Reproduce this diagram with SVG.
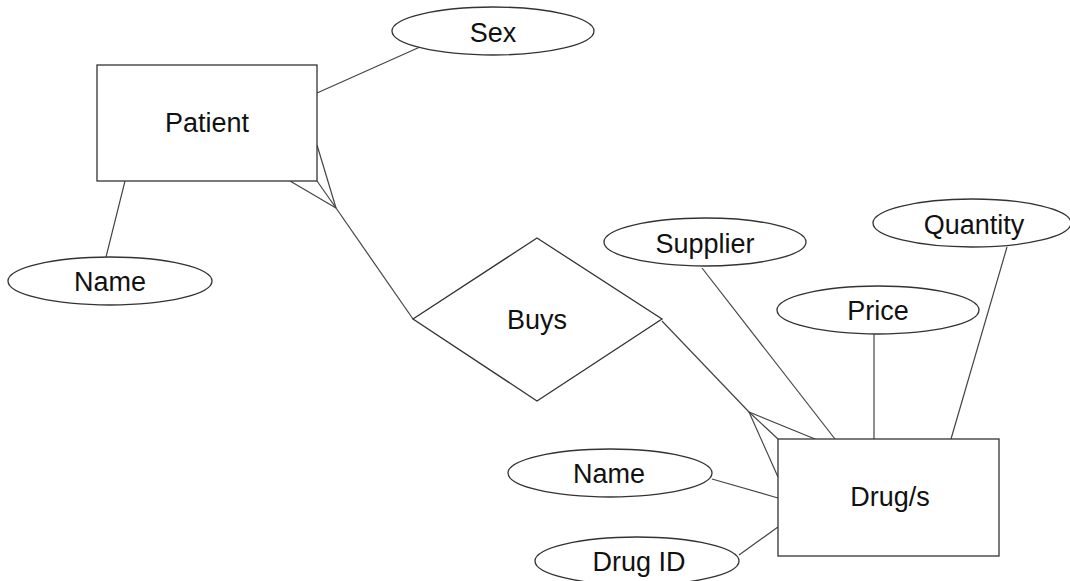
<svg xmlns="http://www.w3.org/2000/svg" width="1070" height="581" viewBox="0 0 1070 581">
<style>
.shape{fill:#fff;stroke:#333;stroke-width:1.3}
.conn line{stroke:#444;stroke-width:1.2}
text{font-family:"Liberation Sans",Arial,sans-serif;font-size:27px;fill:#111;text-anchor:middle}
</style>
<rect width="1070" height="581" fill="#fff"/>
<g class="conn" id="connectors">
<line x1="317" y1="93" x2="420" y2="47"/>
<line x1="125" y1="181" x2="106" y2="257"/>
<line x1="413" y1="319" x2="336" y2="208"/>
<line x1="336" y1="208" x2="317" y2="145"/>
<line x1="336" y1="208" x2="317" y2="181"/>
<line x1="336" y1="208" x2="290" y2="181"/>
<line x1="662" y1="321" x2="749" y2="412"/>
<line x1="749" y1="412" x2="815" y2="439"/>
<line x1="749" y1="412" x2="778" y2="439"/>
<line x1="749" y1="412" x2="778" y2="477"/>
<line x1="702" y1="268" x2="835" y2="439"/>
<line x1="874" y1="334" x2="874" y2="439"/>
<line x1="1007" y1="247" x2="951" y2="439"/>
<line x1="712" y1="479" x2="778" y2="498"/>
<line x1="739" y1="555" x2="778" y2="527"/>
</g>
<g id="patient"><rect class="shape" x="97" y="65" width="220" height="116"/><text x="207" y="132">Patient</text></g>
<g id="sex"><ellipse class="shape" cx="493" cy="31" rx="101" ry="24"/><text x="493" y="42">Sex</text></g>
<g id="patient-name"><ellipse class="shape" cx="110" cy="281" rx="102" ry="24"/><text x="110" y="291">Name</text></g>
<g id="buys"><polygon class="shape" points="537,238 662,319 537,401 413,319"/><text x="537" y="329">Buys</text></g>
<g id="supplier"><ellipse class="shape" cx="705" cy="242" rx="101" ry="24"/><text x="705" y="253">Supplier</text></g>
<g id="quantity"><ellipse class="shape" cx="972" cy="223" rx="99" ry="24"/><text x="974" y="234">Quantity</text></g>
<g id="price"><ellipse class="shape" cx="878" cy="310" rx="101" ry="24"/><text x="878" y="320">Price</text></g>
<g id="drugs"><rect class="shape" x="778" y="439" width="221" height="117"/><text x="890" y="506">Drug/s</text></g>
<g id="drug-name"><ellipse class="shape" cx="610" cy="473" rx="102" ry="24"/><text x="609" y="483">Name</text></g>
<g id="drug-id"><ellipse class="shape" cx="637" cy="561" rx="102" ry="24"/><text x="639" y="571">Drug ID</text></g>
</svg>
